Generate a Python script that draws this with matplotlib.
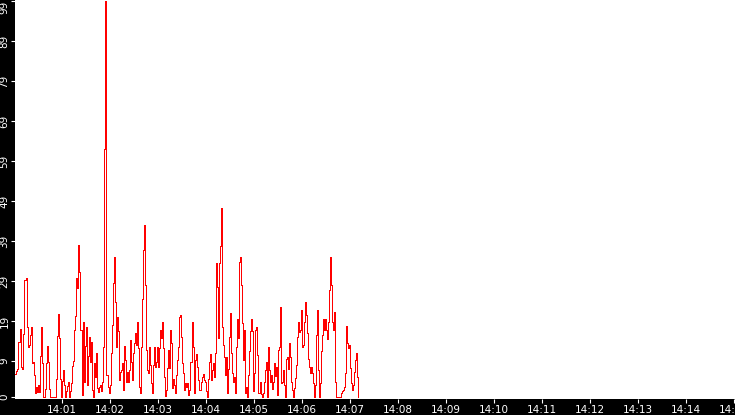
import numpy as np
from matplotlib import pyplot as plt
from matplotlib.ticker import FixedLocator, FuncFormatter

# samples, one every 1.25 s starting 14:00:01
start_sec = 1.0
step_sec = 1.25
load = [
    5.75, 5.75, 6.4, 7, 13.7, 17, 7.6, 7, 15.7, 29.25,
    29.25, 29.7, 17.6, 12.6, 13, 15.6, 17.6, 8.4, 8.8, 5.5,
    0.9, 2.6, 1.3, 3, 1.3, 10.3, 17.6, 8.4, 0, 0,
    2, 8.6, 12.8, 8.8, 2, 0, 0, 0, 0, 0,
    0, 4.4, 15.25, 20.75, 14.75, 4.4, 0, 4, 6.75, 3,
    0, 1.5, 2.75, 3.8, 0, 1.5, 3.4, 7.75, 9.1, 16.75,
    20.25, 29.7, 27.2, 38, 31.3, 16.75, 16.75, 0.5, 18.8, 3.8,
    12.75, 17.6, 3, 10.25, 15, 8.8, 13.8, 1.75, 0, 8.6,
    5, 11, 2.2, 1.3, 2.6, 3, 1.5, 3.8, 12.6, 62,
    99, 5.5, 5.5, 2.6, 0.9, 3, 11, 18, 28.4, 35,
    23.8, 12.6, 20, 16.4, 4.25, 6.3, 6.75, 8.4, 1.75, 12.75,
    9.25, 3.8, 6.3, 3.8, 6.75, 14.25, 8.8, 4.25, 11, 13.4,
    15.9, 13, 18.8, 12.25, 2.6, 0.9, 12.6, 24.6, 36.75, 43,
    28, 11.75, 6.75, 5.9, 12.6, 8, 3.4, 0.9, 8, 12.6,
    7.6, 8.8, 12.6, 7.6, 12.25, 16.75, 14.75, 18.8, 12.25, 5,
    0.3, 1.75, 7.2, 11.75, 7.2, 16.75, 13.4, 2.2, 4.4, 3,
    0.9, 5.5, 9.25, 12.6, 20, 20.4, 15, 8.4, 5.9, 1.75,
    3.6, 2.6, 3.4, 0.5, 1.75, 8.8, 8.8, 18.8, 12.6, 0.9,
    9.25, 10.75, 7.6, 4.25, 1.75, 1.75, 3.8, 5, 5.75, 4.25,
    3.8, 1.4, 0, 4.6, 8.8, 10.75, 4.25, 6.75, 8.4, 5,
    10.9, 33.4, 27.6, 14.75, 33.4, 37.75, 47.2, 17.6, 13, 10.1,
    5.5, 10.1, 0.9, 7.1, 15, 20.9, 10.9, 5.9, 3.8, 5,
    0.9, 12.6, 19.6, 14.75, 33.8, 35, 28, 18.4, 9.25, 16.75,
    0.9, 2.4, 0, 5.5, 11.4, 16.4, 19.6, 16.4, 1.6, 5.9,
    16.75, 17.6, 10.4, 1, 0.9, 3.8, 0.75, 0, 1, 3.8,
    6.75, 8.8, 0, 12.6, 6.75, 3.8, 5.5, 2, 3.8, 8.4,
    5.25, 7.6, 0.5, 11.75, 12.6, 22.6, 3.4, 3.8, 6.75, 3,
    0, 9.6, 10.1, 7.1, 13.4, 10.1, 3.8, 1.75, 0, 2.2,
    4.7, 8, 15, 18.75, 16.3, 16.75, 21.75, 12.6, 13, 18.75,
    23.8, 20.5, 15.9, 9.6, 7.6, 5.9, 7.4, 5.9, 3.4, 0,
    3, 15.5, 21.75, 6.75, 0, 3.4, 11.4, 15.5, 19.6, 16.75,
    19.6, 16.75, 14.6, 18.75, 26.75, 35, 28, 18.75, 16.75, 21.3,
    3.8, 0, 0, 0, 0, 0, 0.9, 1.5, 1.75, 2.6,
    5.9, 17.75, 13.4, 12.2, 13, 7.2, 3.4, 1.75, 3, 6.3,
    9.25, 10.9, 5.1, 0,
]
y_ticks = [0, 9, 19, 29, 39, 49, 59, 69, 79, 89, 99]
x_ticks_min = list(range(1, 16))  # 14:01 .. 14:15
window_sec = [1, 901]

secs = start_sec + step_sec * np.arange(len(load))

fig = plt.figure(figsize=(7.35, 4.15), dpi=100, facecolor='black')
ax = fig.add_axes([15 / 735, 16 / 415, 720 / 735, 399 / 415])
ax.set_facecolor('white')

ax.plot(secs, load, color='#ff0000', linewidth=0.55, drawstyle='steps-mid', antialiased=False)

ax.set_xlim(window_sec)
ax.set_ylim(-0.5, 99.25)

ax.xaxis.set_major_locator(FixedLocator([m * 60 for m in x_ticks_min]))
ax.xaxis.set_major_formatter(FuncFormatter(lambda v, p: f'14:{int(round(v / 60)):02d}'))
ax.yaxis.set_major_locator(FixedLocator(y_ticks))
ax.yaxis.set_major_formatter(FuncFormatter(lambda v, p: f'{int(round(v))}'))

for s in ax.spines.values():
    s.set_visible(False)

ax.tick_params(axis='both', direction='out', colors='white', length=3, width=0.8, labelsize=7.5)
ax.tick_params(axis='x', pad=1.5)
ax.tick_params(axis='y', pad=1)

for lbl in ax.get_yticklabels():
    lbl.set_rotation(90)
    lbl.set_va('center')
# keep the top label inside the figure
ax.get_yticklabels()[-1].set_va('top')

fig.savefig('out.png', dpi=100, facecolor='black')
